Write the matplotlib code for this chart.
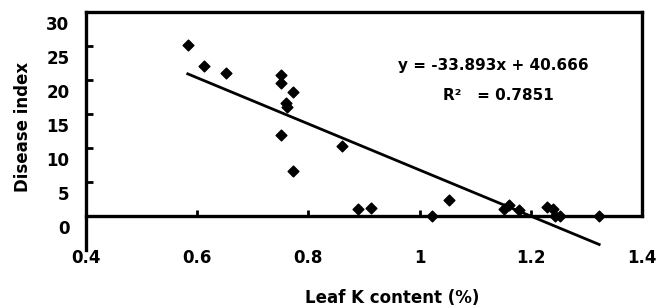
import matplotlib
matplotlib.use('Agg')
import matplotlib.pyplot as plt
import matplotlib.transforms as mtransforms
import numpy as np

# leaf K content (%) vs disease index
leaf_k = [0.583, 0.612, 0.652, 0.751, 0.751, 0.772, 0.760, 0.762, 0.751, 0.772,
          0.861, 0.889, 0.913, 1.022, 1.053, 1.151, 1.161, 1.179, 1.229, 1.240,
          1.244, 1.252, 1.323]
disease = [25.2, 22.1, 21.0, 20.7, 19.5, 18.2, 16.6, 16.1, 11.9, 6.6,
           10.3, 1.0, 1.2, 0.0, 2.3, 1.0, 1.6, 0.9, 1.4, 1.0,
           0.0, 0.0, 0.0]
slope, intercept = -33.893, 40.666
r2 = 0.7851

xticks = [0.4, 0.6, 0.8, 1.0, 1.2, 1.4]
xtick_labels = ['0.4', '0.6', '0.8', '1', '1.2', '1.4']
yticks = [0, 5, 10, 15, 20, 25, 30]

plt.rcParams['font.family'] = ['DejaVu Sans']
plt.rcParams['font.weight'] = 'bold'

fig = plt.figure(figsize=(6.67, 3.08), dpi=100)
ax = fig.add_axes([0.129, 0.188, 0.8335, 0.773])

ax.scatter(leaf_k, disease, marker='D', s=30, color='black', zorder=3)
xfit = np.array([min(leaf_k), max(leaf_k)])
ax.plot(xfit, slope * xfit + intercept, color='black', lw=2.0)

ax.set_xlim(0.4, 1.4)
ax.set_ylim(-5, 30)

for s in ax.spines.values():
    s.set_linewidth(2.4)
ax.spines['bottom'].set_position(('data', 0))
ax.spines['right'].set_bounds(0, 30)

ax.set_xticks(xticks)
ax.set_xticklabels(xtick_labels)
ax.set_yticks(yticks)
ax.tick_params(axis='x', direction='in', length=4, width=2, pad=24, labelsize=12)
ax.tick_params(axis='y', direction='in', length=5, width=2, pad=12, labelsize=12)

# y labels in the original sit a bit below their ticks
off = mtransforms.ScaledTranslation(0, -8 / 72, fig.dpi_scale_trans)
for lab in ax.get_yticklabels():
    lab.set_transform(lab.get_transform() + off)

ax.set_xlabel('Leaf K content (%)', fontsize=12, fontweight='bold')
ax.xaxis.set_label_coords(0.55, -0.165)
ax.set_ylabel('Disease index', fontsize=12, fontweight='bold')
ax.yaxis.set_label_coords(-0.097, 0.517)

ax.text(1.132, 22.2, 'y = -33.893x + 40.666', ha='center', va='center',
        fontsize=11, fontweight='bold')
ax.text(1.141, 17.8, 'R²   = {}'.format(r2), ha='center', va='center',
        fontsize=11, fontweight='bold')

fig.savefig('out.png', dpi=100)
